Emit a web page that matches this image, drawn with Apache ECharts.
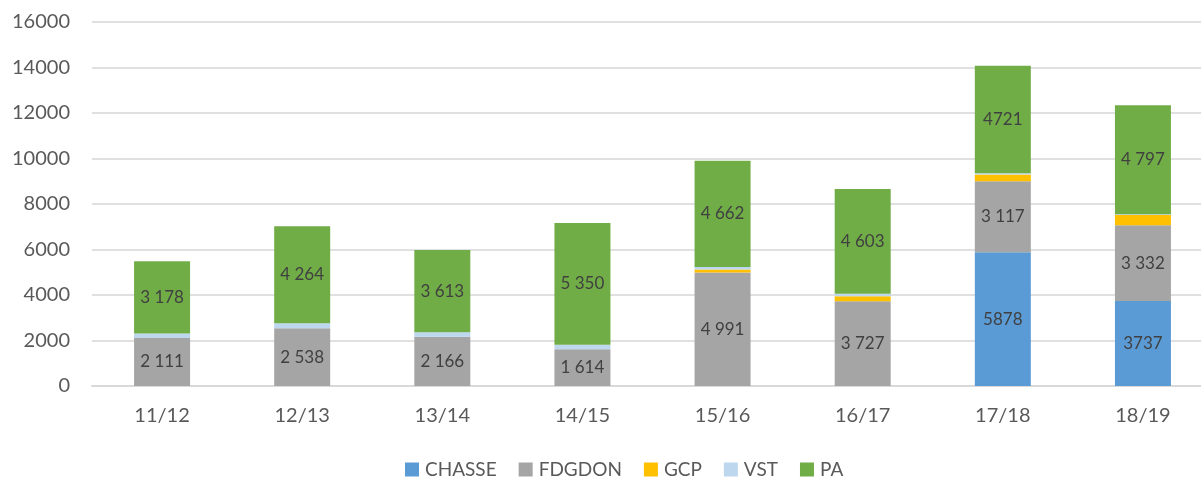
<!DOCTYPE html>
<html>
<head>
<meta charset="utf-8">
<script src="https://cdn.jsdelivr.net/npm/echarts@6/dist/echarts.min.js"></script>
<style>
html,body{margin:0;padding:0;background:#fff;overflow:hidden;}
#chart{width:1213px;height:479px;}
</style>
</head>
<body>
<div id="chart"></div>
<script>
const categories = ["11/12","12/13","13/14","14/15","15/16","16/17","17/18","18/19"];
const chasse = [null,null,null,null,null,null,5878,3737];
const fdgdon = [2111,2538,2166,1614,4991,3727,3117,3332];
const gcp    = [null,null,null,null,130,220,300,450];
const vst    = [200,220,200,200,115,110,60,30];
const pa     = [3178,4264,3613,5350,4662,4603,4721,4797];
const chasseLabels = ["","","","","","","5878","3737"];
const fdgdonLabels = ["2 111","2 538","2 166","1 614","4 991","3 727","3 117","3 332"];
const paLabels     = ["3 178","4 264","3 613","5 350","4 662","4 603","4721","4 797"];
const yTicks = {min:0, max:16000, interval:2000};

const FONT = 'Lato';
function mk(name, data, color, labels){
  const s = {
    name, type:'bar', stack:'total', data, barWidth:56,
    itemStyle:{color},
    emphasis:{disabled:true}
  };
  if (labels){
    s.label = {show:true, position:'inside', color:'#404040', fontFamily:FONT, fontSize:17,
      formatter:p => labels[p.dataIndex]};
  }
  return s;
}
const chart = echarts.init(document.getElementById('chart'), null, {renderer:'canvas'});
chart.setOption({
  animation:false,
  backgroundColor:'#fff',
  grid:{left:92, top:22, bottom:93, right:0, containLabel:false},
  legend:{
    left:400, top:455, itemWidth:14, itemHeight:14, itemGap:22,
    icon:'rect',
    textStyle:{fontFamily:FONT, fontSize:19, color:'#595959', padding:[0,0,0,1]},
    data:['CHASSE','FDGDON','GCP','VST','PA']
  },
  xAxis:{
    type:'category', data:categories,
    axisLine:{lineStyle:{color:'#d9d9d9', width:2}},
    axisTick:{show:false},
    axisLabel:{fontFamily:FONT, fontSize:20, color:'#595959', margin:20}
  },
  yAxis:{
    type:'value', min:yTicks.min, max:yTicks.max, interval:yTicks.interval,
    axisLine:{show:false}, axisTick:{show:false},
    splitLine:{lineStyle:{color:'#e0e0e0', width:2}},
    axisLabel:{fontFamily:FONT, fontSize:20, color:'#595959', margin:22, formatter:v => String(v)}
  },
  series:[
    mk('CHASSE', chasse, '#5b9bd5', chasseLabels),
    mk('FDGDON', fdgdon, '#a5a5a5', fdgdonLabels),
    mk('GCP', gcp, '#ffc000'),
    mk('VST', vst, '#bdd7ee'),
    mk('PA', pa, '#70ad47', paLabels)
  ]
});
</script>
</body>
</html>
